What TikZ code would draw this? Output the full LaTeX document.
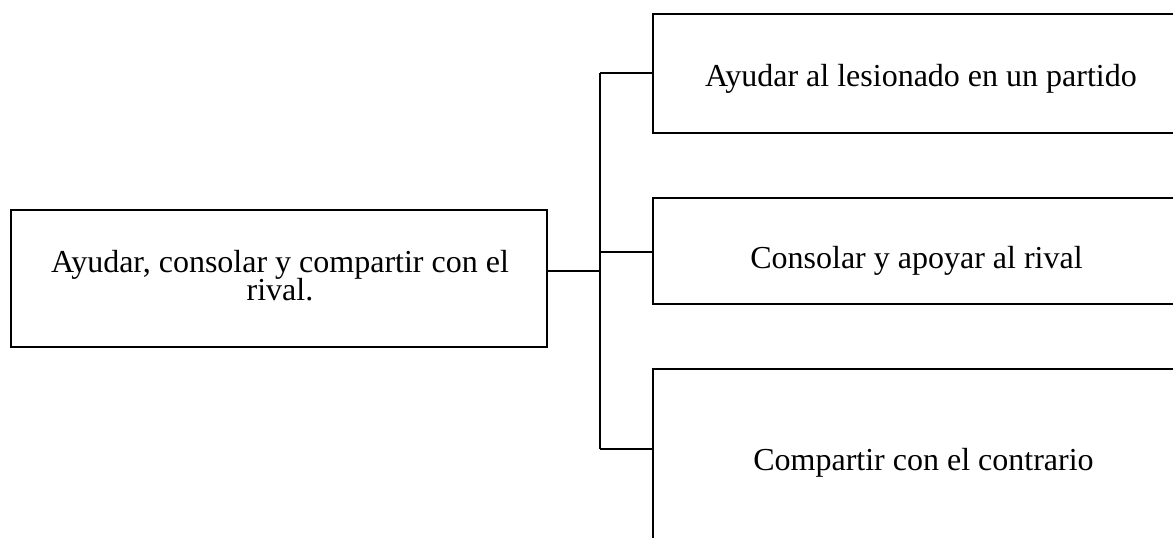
\documentclass[tikz,border=0pt]{standalone}
\usepackage{fontspec}
\setmainfont{Liberation Serif}
\begin{document}
\begin{tikzpicture}[x=1pt,y=-1pt,
  box/.style={draw=black,line width=2pt,inner sep=0pt,rectangle},
  conn/.style={draw=black,line width=1.9pt},
  label/.style={inner sep=0pt,font=\fontsize{32}{27.6}\selectfont}]
\clip (0,0) rectangle (1173,538);
\useasboundingbox (0,0) rectangle (1173,538);
% boxes
\node[box,minimum width=536pt,minimum height=137pt] (L) at (279,278.5) {};
\node[box,minimum width=537pt,minimum height=119pt] (A) at (921.5,73.5) {};
\node[box,minimum width=537pt,minimum height=106pt] (B) at (921.5,251) {};
\node[box,minimum width=537pt,minimum height=176pt] (C) at (921.5,457) {};
% texts
\node[label,align=center] (tL) at (280,275.6) {Ayudar, consolar y compartir con el\\[-2pt]rival.};
\node[label,anchor=base] (tA) at (921,86) {Ayudar al lesionado en un partido};
\node[label,anchor=base] (tB) at (916.5,268) {Consolar y apoyar al rival};
\node[label,anchor=base] (tC) at (923.5,470.5) {Compartir con el contrario};
% connectors
\coordinate (J) at (600,271);
\coordinate (jt) at (600,73);
\coordinate (jm) at (600,252);
\coordinate (jb) at (600,449);
\draw[conn] (L.east |- J) -- (J);
\draw[conn] (jt) -- (jb);
\draw[conn] (jt) -- (jt -| A.west);
\draw[conn] (jm) -- (jm -| B.west);
\draw[conn] (jb) -- (jb -| C.west);
\end{tikzpicture}
\end{document}
